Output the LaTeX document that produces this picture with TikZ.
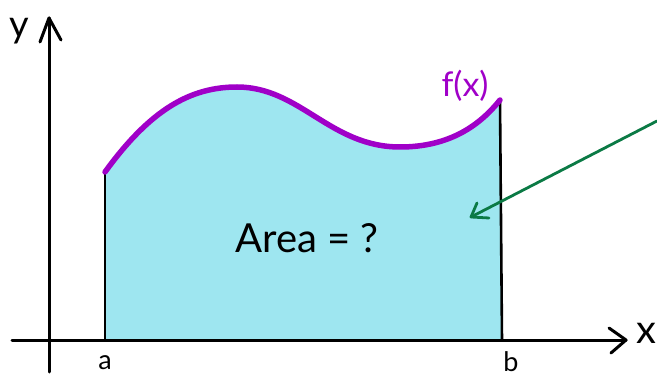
\documentclass[tikz,border=0pt]{standalone}
\usepackage{fontspec}
\setmainfont{Lato}
\definecolor{fillc}{HTML}{9EE6F0}
\definecolor{curvec}{HTML}{A000C8}
\definecolor{arrowc}{HTML}{0B7A45}
\tikzset{
  axis/.style={line width=3pt, black, line cap=round, line join=round},
  bound/.style={line width=2.6pt, black},
  fcurve/.style={line width=5.5pt, curvec, line cap=round},
  hint/.style={line width=2.8pt, arrowc, line cap=round, line join=round},
  lab/.style={font=\fontsize{27}{27}\selectfont, inner sep=0pt},
}
\begin{document}
\begin{tikzpicture}[x=1pt,y=-1pt]
\useasboundingbox (0,0) rectangle (657,377);
% filled area
\fill[fillc] (105,340) -- (105,172) .. controls (150,110) and (190,87) .. (237,87)
  .. controls (300,87) and (330,147) .. (400,147)
  .. controls (450,147) and (480,125) .. (500,100) -- (502,340) -- cycle;
% axes
\coordinate (yb) at (49,372);
\coordinate (yt) at (49,18);
\coordinate (xl) at (12,340);
\coordinate (xr) at (626,340);
\draw[axis] (yb) -- (yt);
\draw[axis] (40,42) -- (yt) -- (61,40);
\draw[axis] (xl) -- (xr);
\draw[axis] (609,328) -- (xr) -- (611,353);
% bounds
\coordinate (a0) at (105,340);
\coordinate (a1) at (105,172);
\coordinate (b0) at (502,340);
\coordinate (b1) at (500,100);
\draw[bound] (a0) -- (a1);
\draw[bound] (b0) -- (b1);
% curve
\draw[fcurve] (a1) .. controls (150,110) and (190,87) .. (237,87)
  .. controls (300,87) and (330,147) .. (400,147)
  .. controls (450,147) and (480,125) .. (b1);
% labels
\node[lab, font=\fontsize{38}{38}\selectfont] (ylab) at (19,31) {y};
\node[lab, font=\fontsize{40}{40}\selectfont] (xlab) at (646,333) {x};
\node[lab] (alab) at (105,363) {a};
\node[lab] (blab) at (511,362) {b};
\node[lab, font=\fontsize{34}{34}\selectfont, text=curvec] (flab) at (465,86) {f(x)};
\node[font=\fontsize{40}{40}\selectfont, inner sep=0pt] (area) at (307,238) {Area = ?};
% hint arrow
\coordinate (hs) at (657,121);
\coordinate (he) at (471,217);
\draw[hint] (hs) -- (he);
\draw[hint] (477,203) -- (he) -- (489,218);
\end{tikzpicture}
\end{document}
